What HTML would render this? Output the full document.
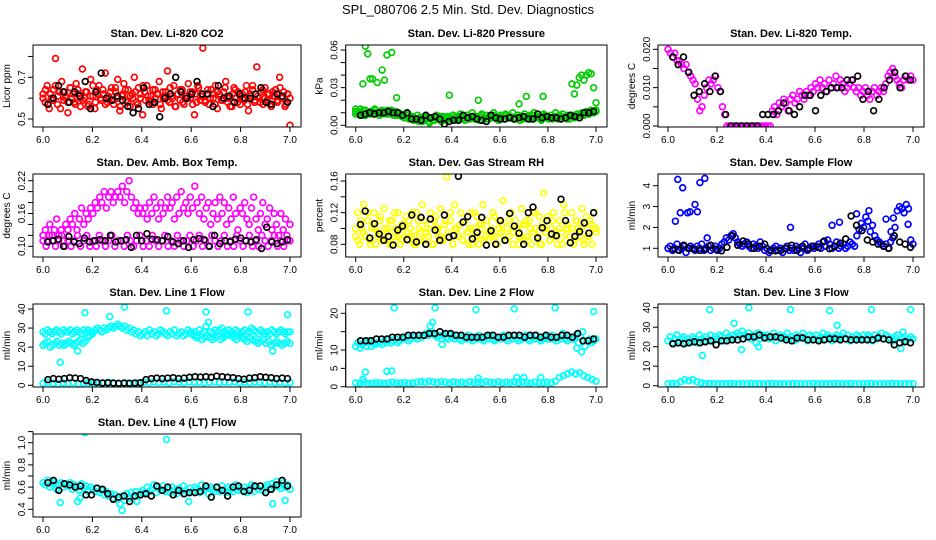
<!DOCTYPE html>
<html><head><meta charset="utf-8">
<style>
html,body{margin:0;padding:0;background:#fff;}
svg{display:block;font-family:"Liberation Sans",Arial,sans-serif;}
</style></head>
<body>
<svg id="chart" width="936" height="540" viewBox="0 0 936 540" xmlns="http://www.w3.org/2000/svg">
<text x="468" y="14" text-anchor="middle" font-size="13">SPL_080706  2.5 Min. Std. Dev. Diagnostics</text>
</svg>
<script>
// ---------- data ----------
const xTicks = [6.0, 6.2, 6.4, 6.6, 6.8, 7.0];
const xTickLabels = ["6.0", "6.2", "6.4", "6.6", "6.8", "7.0"];

const co2Red = [.62,.58,.66,.55,.60,.64,.79,.57,.63,.68,.59,.61,.53,.65,.60,.58,.67,.62,.56,.74,.60,.63,.57,.69,.61,.55,.64,.66,.59,.62,.72,.58,.60,.65,.57,.63,.69,.54,.61,.67,.59,.64,.56,.62,.70,.58,.65,.60,.52,.63,.66,.59,.61,.57,.64,.62,.68,.55,.60,.63,.73,.58,.61,.66,.56,.62,.59,.64,.57,.61,.67,.60,.63,.52,.58,.65,.61,.84,.59,.62,.57,.64,.60,.66,.55,.62,.59,.63,.68,.58,.61,.56,.65,.60,.63,.57,.62,.59,.66,.54,.61,.64,.58,.75,.60,.63,.57,.65,.59,.62,.56,.61,.64,.58,.70,.60,.63,.57,.62,.47];
const co2Red2 = [.60,.64,.57,.62,.59,.66,.61,.55,.63,.60,.58,.65,.62,.57,.64,.60,.59,.63,.56,.61,.66,.58,.62,.60,.64,.57,.61,.63,.59,.65,.60,.56,.62,.64,.58,.61,.60,.63,.57,.62,.66,.59,.61,.58,.64,.60,.62,.57,.63,.61,.59,.65,.60,.56,.62,.64,.58,.61,.60,.63,.57,.62,.66,.59,.61,.58,.64,.60,.62,.57,.63,.61,.59,.65,.60,.56,.62,.64,.58,.61,.60,.63,.57,.62,.66,.59,.61,.58,.64,.60,.62,.57,.63,.61,.59,.65,.60,.56,.62,.60];
const co2Black = [.57,.60,.66,.63,.58,.63,.61,.68,.55,.63,.72,.60,.59,.61,.59,.56,.53,.55,.65,.57,.58,.51,.60,.62,.70,.63,.60,.62,.68,.62,.62,.56,.66,.60,.61,.58,.62,.60,.60,.62,.65,.58,.57,.62,.61,.58];

const presGreen = [.011,.009,.013,.008,.012,.010,.009,.011,.013,.010,.008,.012,.011,.009,.010,.012,.008,.011,.010,.009,.008,.006,.009,.005,.007,.004,.008,.006,.003,.007,.005,.002,.006,.004,.008,.005,.003,.007,.004,.006,.005,.008,.007,.005,.009,.006,.004,.008,.006,.010,.005,.007,.004,.009,.006,.008,.005,.007,.010,.006,.004,.008,.005,.009,.007,.006,.010,.005,.008,.004,.007,.009,.006,.008,.005,.010,.007,.006,.004,.009,.007,.005,.008,.006,.010,.005,.007,.009,.006,.008,.005,.007,.007,.009,.006,.010,.008,.011,.009,.012,.010,.011];
const presGreen2 = [.009,.011,.010,.012,.008,.010,.011,.009,.012,.010,.011,.009,.010,.012,.009,.011,.010,.008,.009,.007,.006,.008,.005,.006,.004,.005,.003,.005,.004,.006,.003,.005,.004,.006,.005,.007,.006,.005,.007,.006,.008,.005,.006,.007,.005,.006,.008,.005,.007,.006,.005,.007,.008,.006,.005,.007,.006,.008,.005,.007,.006,.005,.008,.006,.007,.005,.006,.008,.007,.005,.006,.007,.005,.008,.006,.007,.005,.006,.008,.007,.006,.005,.007,.006,.008,.007,.006,.005,.007,.008,.006,.007,.008,.009,.008,.010,.009,.011,.010,.012];
const presOutX = [6.00,6.03,6.04,6.05,6.06,6.07,6.09,6.11,6.12,6.13,6.15,6.17,6.39,6.51,6.68,6.71,6.78,6.90,6.91,6.92,6.93,6.94,6.95,6.96,6.97,6.98,6.99,7.0];
const presOutY = [.013,.033,.063,.057,.037,.037,.034,.044,.036,.056,.058,.022,.024,.020,.017,.023,.023,.033,.025,.032,.038,.040,.036,.040,.042,.041,.030,.018];
const presBlack = [.008,.009,.010,.009,.010,.010,.011,.010,.010,.008,.010,.005,.005,.004,.008,.006,.007,.005,.001,.003,.004,.004,.008,.006,.007,.005,.004,.003,.008,.006,.005,.005,.006,.005,.006,.007,.005,.005,.009,.006,.007,.006,.006,.005,.006,.008,.007,.006,.010,.010,.011];

const tempMag = [.020,.019,.018,.019,.017,.017,.016,.015,.016,.014,.013,.012,.011,.007,.004,.005,.008,.010,.012,.011,.012,.013,.010,.009,.005,.003,0,0,0,0,0,0,0,0,0,0,0,0,0,0,0,0,0,0,0,0,.004,.005,.003,.006,.005,.007,.006,.004,.007,.008,.006,.007,.009,.008,.007,.009,.008,.010,.009,.011,.010,.012,.010,.011,.009,.012,.010,.011,.013,.010,.012,.011,.009,.010,.011,.012,.010,.009,.010,.008,.009,.010,.008,.007,.009,.010,.008,.009,.010,.009,.011,.013,.014,.015,.013,.012,.011,.010,.012,.013,.012,.013,.012];
const tempBlack = [.018,.016,.018,.014,.008,.009,.011,.009,.013,.009,.003,0,0,0,0,0,0,.003,.003,.003,.004,.006,.004,.003,.005,.008,.008,.004,.008,.009,.010,.010,.010,.012,.012,.013,.007,.009,.004,.007,.010,.012,.014,.010,.013,.012];

const ambUpper = [.12,.13,.11,.14,.12,.13,.15,.12,.13,.11,.14,.13,.15,.14,.16,.13,.15,.17,.14,.16,.15,.17,.16,.18,.17,.19,.18,.20,.17,.19,.20,.18,.19,.20,.19,.21,.18,.20,.22,.19,.17,.18,.16,.17,.16,.17,.15,.18,.16,.19,.17,.15,.18,.16,.17,.19,.17,.18,.15,.19,.16,.20,.17,.18,.16,.19,.17,.21,.18,.16,.19,.15,.17,.18,.14,.16,.18,.15,.19,.16,.18,.14,.17,.15,.19,.16,.13,.17,.16,.18,.15,.14,.17,.19,.15,.13,.16,.18,.14,.15,.17,.13,.16,.14,.12,.16,.13,.15,.11,.14];
const ambLower = [.11,.10,.12,.11,.10,.11,.12,.10,.11,.10,.11,.12,.10,.11,.12,.10,.11,.10,.12,.11,.10,.11,.12,.10,.11,.11,.10,.12,.11,.10,.11,.12,.10,.11,.10,.12,.11,.10,.11,.12,.10,.11,.10,.12,.11,.10,.11,.12,.10,.11,.12,.10,.11,.10,.12,.11,.10,.11,.12,.10,.11,.10,.12,.11,.10,.11,.12,.10,.11,.10,.12,.11,.10,.11,.12,.10,.11,.10,.12,.11];
const ambBlack = [.108,.110,.113,.100,.118,.108,.105,.115,.108,.110,.112,.110,.120,.108,.110,.112,.098,.120,.110,.123,.113,.112,.110,.118,.108,.105,.110,.098,.112,.114,.112,.100,.120,.105,.110,.108,.113,.115,.110,.108,.112,.096,.135,.108,.105,.108,.112];

const rhYellow = [.09,.12,.08,.10,.13,.09,.11,.085,.10,.12,.08,.095,.11,.09,.125,.085,.10,.08,.11,.09,.10,.12,.08,.105,.09,.115,.085,.10,.12,.09,.08,.11,.095,.13,.085,.10,.09,.12,.08,.11,.10,.09,.125,.085,.105,.165,.09,.11,.08,.13,.10,.09,.12,.085,.11,.095,.08,.12,.10,.09,.115,.08,.105,.13,.09,.11,.085,.10,.12,.09,.08,.11,.095,.135,.085,.10,.09,.12,.08,.11,.10,.09,.125,.085,.105,.09,.11,.08,.12,.10,.09,.115,.08,.145,.095,.11,.085,.10,.12,.09,.08,.11,.095,.13,.085,.10,.09,.12,.08,.11,.10,.09,.125,.085,.105,.09,.11,.08,.12,.10];
const rhYellow2 = [.10,.085,.11,.095,.09,.12,.08,.105,.10,.09,.115,.085,.10,.095,.11,.08,.12,.09,.10,.085,.105,.095,.11,.09,.08,.12,.10,.085,.11,.095,.09,.105,.08,.115,.10,.09,.085,.11,.095,.12,.08,.10,.09,.105,.085,.11,.095,.10,.08,.12,.09,.105,.10,.085,.11,.095,.09,.115,.08,.10,.105,.09,.085,.11,.12,.095,.10,.08,.09,.105,.11,.085,.10,.095,.12,.09,.08,.105,.10,.115,.085,.11,.095,.09,.10,.08,.12,.105,.09,.10,.085,.11,.095,.10,.08,.115,.09,.105,.10,.095];
const rhBlack = [.105,.122,.088,.106,.093,.085,.090,.079,.098,.103,.086,.117,.083,.114,.080,.112,.098,.085,.117,.089,.091,.166,.108,.115,.087,.095,.114,.079,.097,.080,.110,.085,.119,.103,.094,.080,.120,.127,.088,.101,.110,.093,.091,.137,.110,.082,.090,.096,.107,.094,.120];

const flowBlue = [1.0,1.1,.9,1.0,1.2,.9,1.0,1.1,.8,1.0,1.1,1.0,.9,1.1,1.0,1.2,.9,1.0,1.1,.9,1.0,1.1,.9,1.0,1.2,1.3,1.5,1.4,1.6,1.7,1.5,1.3,1.2,1.1,1.2,1.3,1.1,1.0,1.2,1.1,1.0,1.3,1.1,.9,1.0,.8,.9,1.0,1.1,.9,1.0,.8,1.0,1.1,.9,1.0,.9,1.1,1.0,.8,1.0,1.2,.9,1.0,1.1,1.0,1.1,1.2,1.0,1.3,1.1,1.4,1.2,1.0,1.1,1.3,1.0,1.1,1.2,1.0,1.1,1.3,1.2,1.1,1.6,1.9,2.2,2.0,2.5,2.3,1.8,2.1,1.6,1.4,1.3,1.2,1.1,1.2,1.0,1.3,1.5,2.0,2.8,3.0,2.9,2.7,3.1,2.9,1.4,1.2];
const flowOutX = [6.03,6.04,6.05,6.06,6.08,6.09,6.11,6.12,6.13,6.15,6.16,6.50,6.67,6.70,6.77,6.82,6.89,6.91,6.92,6.98];
const flowOutY = [2.3,4.3,2.7,3.9,2.7,2.75,3.1,2.75,4.15,4.35,1.5,2.0,2.1,2.25,2.65,2.8,2.4,1.8,2.45,2.15];
const flowBlack = [.95,.92,1.15,1.0,.95,.9,.95,1.15,.95,.88,1.05,1.6,1.15,1.35,1.2,1.0,1.1,1.2,.9,.88,.9,1.0,1.15,.9,1.1,.95,1.1,1.05,1.35,.98,1.1,1.25,1.45,2.55,2.1,1.85,1.4,1.3,1.2,1.1,1.0,1.6,1.3,1.2,1.05];

const l1Upper = [28,27,29,28,27,28,29,28,27,29,28,28,29,27,28,29,28,27,29,28,29,28,28,29,30,29,28,30,29,30,31,30,31,32,31,30,31,29,30,28,29,27,28,26,27,28,26,29,27,28,26,27,29,28,27,26,28,27,29,26,27,28,26,27,29,28,27,28,26,29,27,28,31,33,28,27,29,28,29,30,28,27,29,28,27,29,28,27,28,29,27,28,30,29,28,27,29,28,27,28,27,29,28,27,28,29,28,27,28,28];
const l1LowA = [21,22,23,20,21,22,23,21,22,21,22,23,22,21,22,23,24,22,23,25,26,27];
const l1LowB = [27,26,25,26,24,25,26,25,24,25,26,24,25,26,27,26,25,24,26,25,24,23,25,24,23,22,23,24,22,23,21,22,23,22,21,22,23,22];
const l1Bottom = [1,1.5,1,0.8,1.2,1,1.4,0.9,1.1,1.3,1,0.8,1.2,1.5,1,1.1,0.9,1.3,1,1.2,1.6,1.4,1.8,1.5,1.7,1.3,1.9,1.6,1.4,1.8,1.5,1.7,1.3,1.6,1.9,1.4,1.7,1.5,1.8,1.3,1.6,1.4,1.7,1.5,1.2,1.6,1.3,1.5,1.1,1.4];
const l1OutX = [6.0,6.07,6.14,6.17,6.27,6.33,6.50,6.66,6.83,6.93,6.99];
const l1OutY = [21,12,18,38,36,41,39,38.5,38.5,18,37];
const l1Black = [3,3.5,3.2,3.5,4,3.8,3.5,2.5,1.8,1.5,1.2,1.3,1.2,1.0,1.2,1.0,1.2,1.3,3,3.5,3.8,3.5,3.8,4,3.5,3.8,4.2,4.5,4.3,4.5,4.2,4.8,4.5,4.2,4,3.5,3.2,3.8,4,4.5,4.2,4,3.5,3.8,3.5];

const l2Main = [11,12,10.5,11.5,12,11,12.5,11,12,11.5,12,12,11.5,12.5,12,13,12,12.5,13,12,12.5,13,13,13.5,12.5,13,14,13.5,13,14,13.5,14,14.5,14,15,14.5,14,13.5,14,13,14,13.5,13,14,13.5,13,14,13,12.5,13.5,13,14,13,12.5,13.5,13,14,13,12.5,13.5,13,14,13,12.5,13,13.5,13,14,13,12.5,13.5,13,14,13,12.5,13.5,13,14,13,12.5,13.5,13,14,13,12.5,13,13.5,13,13,14,13,12.5,13.5,13,14.5,13,12.5,13.5,13,13,14,12,13.5,15,11,12.5,13,12,12.5,13];
const l2Bottom = [1,1,1.2,0.9,1,1.1,1,0.9,1,1.2,1,1,1.1,0.9,1,1.2,1.4,1.2,1.5,1.3,1.1,1.4,1.2,1,1.3,1.1,1.2,1,1.3,1.1,1.2,1,1.4,1.2,1.1,1.3,1,1.2,1.1,1.3,1,1.2,1.1,1,1.2,1.1,1,1.2,1,1.5,2.5,3,3.5,4,3.5,3.8,3,2.5,2,1.5];
const l2OutX = [6.03,6.04,6.13,6.15,6.16,6.31,6.32,6.33,6.36,6.50,6.51,6.66,6.67,6.70,6.77,6.83,6.92,6.94,6.99];
const l2OutY = [2,4,4.2,4.3,21.5,16.5,17.5,21.5,11.5,21,2.3,21.2,2.5,2.5,2.5,21.5,10.5,9.5,20.5];
const l2Black = [12.5,12.5,12.5,13,13,13,13.5,13.5,13.5,14,14,14,14,14.5,14.5,15,14.5,14.5,14,14,13.5,13.5,13.5,13.5,14,14,13.5,13.5,14,14,14,13.5,14,14,13.5,14,13.5,13.5,14,14,13.5,14.5,12.5,12.5,13];

const l3Main = [23,25,22,24,26,23,24,25,22,24,23,25,24,22,26,24,23,25,24,26,23,25,24,26,25,23,27,25,24,26,25,27,26,28,26,25,27,24,26,25,27,24,26,25,26,24,25,27,23,25,26,24,25,27,24,25,23,26,24,25,27,24,23,26,25,24,26,24,25,27,24,26,25,23,25,26,24,25,27,24,26,23,25,24,26,25,24,26,24,26,25,23,26,24,25,27,24,26,25,24,23,25,26,22,24,25,23,24,25,24];
const l3Bottom = [1,1.2,1,2,3,2.5,3,2,1.5,1,1.2,1,0.9,1.1,1,1.2,1,0.9,1.1,1,1.2,1,1.1,0.9,1,1.2,1,1.1,0.9,1,1.2,1,1.1,1,0.9,1.2,1,1.1,1,0.9,1.2,1,1.1,1,1.2,0.9,1,1.1,1,1.2,1,0.9,1.1,1,1.2,1,1.1,0.9,1,1.1];
const l3OutX = [6.14,6.17,6.27,6.30,6.33,6.36,6.37,6.50,6.66,6.69,6.83,6.95,6.96,6.99];
const l3OutY = [15.5,39,32,18.5,40,22,20,39,38.5,31,39,19,27.5,39];
const l3Black = [21.5,22,21.5,22,22.5,22,22.5,23,21,23,23,23.5,23.5,24,25,25,26,24.5,25,25,24.5,23.5,23,24.5,24.5,23.5,23.5,23,23.5,24,24,23.5,24,23.5,23.5,23.5,23.5,23.5,24.5,24,23.5,21,22,22.5,22];

const l4Main = [.64,.62,.66,.60,.63,.65,.58,.62,.64,.60,.63,.61,.64,.58,.62,.60,.57,.63,.59,.61,.56,.60,.58,.56,.59,.55,.57,.53,.56,.52,.54,.50,.53,.49,.45,.52,.48,.54,.50,.55,.52,.56,.53,.55,.57,.55,.60,.56,.58,.62,.55,.59,.57,.61,.56,.58,.55,.60,.57,.54,.59,.56,.61,.57,.55,.59,.56,.60,.58,.55,.62,.57,.59,.54,.60,.58,.56,.59,.56,.61,.57,.55,.60,.58,.56,.62,.57,.59,.57,.60,.55,.59,.62,.56,.60,.58,.61,.57,.60,.62,.58,.63,.60,.65,.61,.59,.64,.60,.62,.58];
const l4OutX = [6.07,6.14,6.15,6.17,6.32,6.38,6.50,6.59,6.83,6.93,6.98];
const l4OutY = [.46,.47,.50,1.09,.39,.47,1.03,.47,1.14,.45,.48];
const l4Black = [.64,.66,.57,.63,.62,.60,.61,.53,.53,.59,.58,.54,.49,.51,.52,.47,.52,.53,.54,.52,.61,.57,.60,.53,.57,.54,.55,.55,.56,.61,.51,.60,.57,.52,.60,.61,.56,.57,.61,.61,.55,.58,.62,.66,.61];

// ---------- layout ----------
const cols = [[33,301],[345.7,607],[658,924]];
const rows = [[45,127],[174,257],[304,387],[434,517]];
const RED="#ff0000", GRN="#00cc00", MAG="#ff00ff", YEL="#ffff00", BLU="#0000ff", CYA="#00ffff", BLK="#000000";

const panels = [
 {name:"co2",title:"Stan. Dev. Li-820 CO2",ylab:"Licor ppm",c:0,r:0,y0:[.5,119],y1:[.7,77.3],
  ticks:[.5,.6,.7,.8],labels:{".5":"0.5",".7":"0.7"},
  series:[{v:co2Red,col:RED},{v:co2Red2,col:RED}],out:[],black:co2Black},
 {name:"pressure",title:"Stan. Dev. Li-820 Pressure",ylab:"kPa",c:1,r:0,y0:[0,125.3],y1:[.06,50],
  ticks:[0,.01,.02,.03,.04,.05,.06],labels:{"0":"0.00",".03":"0.03",".06":"0.06"},
  series:[{v:presGreen,col:GRN},{v:presGreen2,col:GRN}],out:[{x:presOutX,y:presOutY,col:GRN}],black:presBlack},
 {name:"temp",title:"Stan. Dev. Li-820 Temp.",ylab:"degrees C",c:2,r:0,y0:[0,126],y1:[.02,49.3],
  ticks:[0,.005,.01,.015,.02],labels:{"0":"0.000",".01":"0.010",".02":"0.020"},
  series:[{v:tempMag,col:MAG}],out:[],black:tempBlack},
 {name:"amb-box-temp",title:"Stan. Dev. Amb. Box Temp.",ylab:"degrees C",c:0,r:1,y0:[.1,246.3],y1:[.22,180.7],
  ticks:[.1,.12,.14,.16,.18,.2,.22],labels:{".1":"0.10",".16":"0.16",".22":"0.22"},
  series:[{v:ambUpper,col:MAG},{v:ambLower,col:MAG}],out:[],black:ambBlack},
 {name:"gas-stream-rh",title:"Stan. Dev. Gas Stream RH",ylab:"percent",c:1,r:1,y0:[.08,244.3],y1:[.16,181],
  ticks:[.08,.1,.12,.14,.16],labels:{".08":"0.08",".12":"0.12",".16":"0.16"},
  series:[{v:rhYellow,col:YEL},{v:rhYellow2,col:YEL}],out:[],black:rhBlack},
 {name:"sample-flow",title:"Stan. Dev. Sample Flow",ylab:"ml/min",c:2,r:1,y0:[1,248.3],y1:[4,185.7],
  ticks:[1,2,3,4],labels:{"1":"1","2":"2","3":"3","4":"4"},
  series:[{v:flowBlue,col:BLU}],out:[{x:flowOutX,y:flowOutY,col:BLU}],black:flowBlack},
 {name:"line1-flow",title:"Stan. Dev. Line 1 Flow",ylab:"ml/min",c:0,r:2,y0:[0,385.3],y1:[40,309],
  ticks:[0,10,20,30,40],labels:{"0":"0","10":"10","20":"20","30":"30","40":"40"},
  series:[{v:l1Upper,col:CYA},{v:l1LowA,col:CYA,x0:6.0,x1:6.2},{v:l1LowB,col:CYA,x0:6.6,x1:7.0},{v:l1Bottom,col:CYA}],
  out:[{x:l1OutX,y:l1OutY,col:CYA}],black:l1Black},
 {name:"line2-flow",title:"Stan. Dev. Line 2 Flow",ylab:"ml/min",c:1,r:2,y0:[0,386.7],y1:[20,313.3],
  ticks:[0,5,10,15,20],labels:{"0":"0","5":"5","10":"10","20":"20"},
  series:[{v:l2Main,col:CYA},{v:l2Bottom,col:CYA}],out:[{x:l2OutX,y:l2OutY,col:CYA}],black:l2Black},
 {name:"line3-flow",title:"Stan. Dev. Line 3 Flow",ylab:"ml/min",c:2,r:2,y0:[0,385.7],y1:[40,307.7],
  ticks:[0,10,20,30,40],labels:{"0":"0","10":"10","20":"20","30":"30","40":"40"},
  series:[{v:l3Main,col:CYA},{v:l3Bottom,col:CYA}],out:[{x:l3OutX,y:l3OutY,col:CYA}],black:l3Black},
 {name:"line4-flow",title:"Stan. Dev. Line 4 (LT) Flow",ylab:"ml/min",c:0,r:3,y0:[.4,509.3],y1:[1.0,442.7],
  ticks:[.4,.5,.6,.7,.8,.9,1.0,1.1],labels:{".4":"0.4",".6":"0.6",".8":"0.8","1":"1.0"},
  series:[{v:l4Main,col:CYA}],out:[{x:l4OutX,y:l4OutY,col:CYA}],black:l4Black}
];

const svg = document.getElementById('chart');
const NS = "http://www.w3.org/2000/svg";
function mk(tag, attrs, parent){
  const e = document.createElementNS(NS, tag);
  for (const k in attrs) e.setAttribute(k, attrs[k]);
  (parent||svg).appendChild(e);
  return e;
}
function keyOf(v){ let s = String(+v.toFixed(4)); if (s.startsWith("0.")) s = s.slice(1); return s; }

panels.forEach(p => {
  const [L, R] = cols[p.c], [T, B] = rows[p.r];
  const xs = v => (L + 10) + (v - 6) * (R - L - 21);
  const ys = v => p.y0[1] + (v - p.y0[0]) * (p.y1[1] - p.y0[1]) / (p.y1[0] - p.y0[0]);
  const g = mk('g', {});
  
  

  const t = mk('text', {x:(L+R)/2, y:T-8, 'text-anchor':'middle', 'font-size':'11', 'font-weight':'bold'}, g);
  t.textContent = p.title;
  
  

  const clip = mk('clipPath', {id:'clip-' + p.name}, g);
  mk('rect', {x:L, y:T, width:R-L, height:B-T}, clip);
  const pts = mk('g', {'clip-path':'url(#clip-' + p.name + ')', fill:'none', 'stroke-width':'1.7'}, g);
  
  

  function dot(x, y, col){
    const c = mk('circle', {cx:xs(x).toFixed(1), cy:ys(y).toFixed(1), r:'2.9', stroke:col}, pts);
    
    
  }
  p.series.forEach(s => {
    const a = s.x0 ?? 6.0, b = s.x1 ?? 7.0, n = s.v.length;
    s.v.forEach((v, i) => dot(a + (b - a) * i / (n - 1), v, s.col));
  });
  p.out.forEach(o => o.x.forEach((x, i) => dot(x, o.y[i], o.col)));
  const nb = p.black.length;
  p.black.forEach((v, i) => dot(6.02 + 0.97 * i / (nb - 1), v, BLK));

  const box = mk('rect', {x:L, y:T, width:R-L, height:B-T, fill:'none', stroke:'#000', 'stroke-width':'1'}, g);
  
  

  const xa = mk('g', {}, g);
  
  
  mk('line', {x1:xs(6), x2:xs(7), y1:B, y2:B, stroke:'#000'}, xa);
  xTicks.forEach((v, i) => {
    mk('line', {x1:xs(v), x2:xs(v), y1:B, y2:B+5, stroke:'#000'}, xa);
    const tl = mk('text', {x:xs(v), y:B+16, 'text-anchor':'middle', 'font-size':'10'}, xa);
    tl.textContent = xTickLabels[i];
    
    
  });

  const ya = mk('g', {}, g);
  
  
  const tk = p.ticks;
  mk('line', {x1:L, x2:L, y1:ys(tk[0]), y2:ys(tk[tk.length-1]), stroke:'#000'}, ya);
  tk.forEach(v => {
    const y = ys(v);
    mk('line', {x1:L-5, x2:L, y1:y, y2:y, stroke:'#000'}, ya);
    const lab = p.labels[keyOf(v)];
    if (lab !== undefined) {
      const tl = mk('text', {x:L-8, y:y, 'text-anchor':'middle', 'font-size':'10', transform:`rotate(-90 ${L-8} ${y})`}, ya);
      tl.textContent = lab;
      
      
    }
  });
  const yl = mk('text', {x:L-23, y:(T+B)/2, 'text-anchor':'middle', 'font-size':'10', transform:`rotate(-90 ${L-23} ${(T+B)/2})`}, g);
  yl.textContent = p.ylab;
  
  
});
</script>
</body></html>
